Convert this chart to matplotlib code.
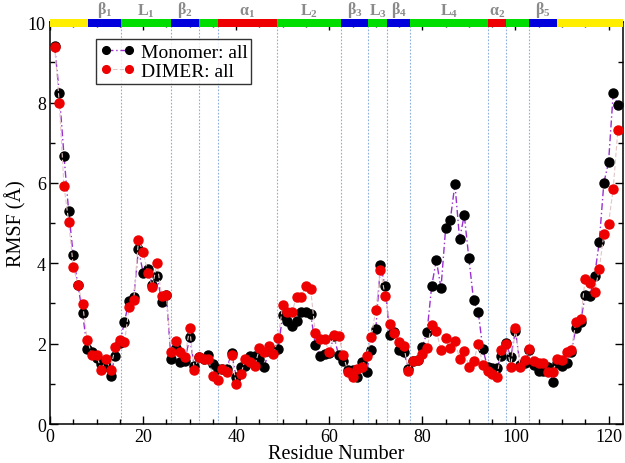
import matplotlib
matplotlib.use("Agg")
import matplotlib.pyplot as plt
from matplotlib.patches import Rectangle
from matplotlib.ticker import MultipleLocator

plt.rcParams["font.family"] = ["Liberation Serif", "DejaVu Serif"]
plt.rcParams["mathtext.fontset"] = "custom"
plt.rcParams["mathtext.rm"] = "Liberation Serif"
plt.rcParams["mathtext.bf"] = "Liberation Serif:bold"
plt.rcParams["mathtext.it"] = "Liberation Serif:italic"

residues = list(range(1, 123))

monomer = [
    9.40, 8.23, 6.68, 5.31, 4.20, 3.45, 2.76, 1.87, 1.78, 1.64,
    1.49, 1.45, 1.20, 1.70, 2.01, 2.55, 3.07, 3.16, 4.35, 3.77,
    3.87, 3.46, 3.69, 3.04, 3.20, 1.63, 1.88, 1.55, 1.58, 2.16,
    1.45, 1.66, 1.62, 1.72, 1.49, 1.37, 1.37, 1.37, 1.77, 1.16,
    1.41, 1.45, 1.70, 1.70, 1.63, 1.41, 1.82, 1.80, 1.87, 2.71,
    2.57, 2.45, 2.57, 2.78, 2.78, 2.74, 1.97, 1.70, 1.74, 1.77,
    2.18, 1.72, 1.58, 1.35, 1.35, 1.16, 1.55, 1.30, 1.85, 2.36,
    3.96, 3.43, 2.22, 2.30, 1.83, 1.80, 1.38, 1.57, 1.60, 1.92,
    2.28, 3.43, 4.08, 3.38, 4.87, 5.08, 5.97, 4.60, 5.20, 4.12,
    3.08, 2.79, 1.87, 1.41, 1.39, 1.39, 1.70, 2.01, 1.66, 2.32,
    1.46, 1.53, 1.83, 1.47, 1.31, 1.31, 1.43, 1.05, 1.53, 1.45,
    1.53, 1.80, 2.40, 2.55, 3.21, 3.19, 3.69, 4.52, 6.01, 6.51,
    8.23, 7.94,
]

dimer = [
    9.39, 7.99, 5.93, 5.04, 3.92, 3.46, 2.98, 2.10, 1.73, 1.73,
    1.34, 1.62, 1.35, 1.92, 2.09, 2.03, 2.90, 3.09, 4.58, 4.29,
    3.77, 3.42, 4.00, 3.18, 3.22, 1.78, 2.07, 1.80, 1.68, 2.38,
    1.35, 1.68, 1.62, 1.62, 1.20, 1.10, 1.38, 1.29, 1.72, 1.00,
    1.24, 1.63, 1.54, 1.45, 1.88, 1.78, 1.93, 1.74, 2.13, 2.95,
    2.79, 2.79, 3.17, 3.17, 3.44, 3.36, 2.26, 2.11, 2.11, 1.78,
    2.21, 2.20, 1.72, 1.30, 1.16, 1.37, 1.41, 1.70, 2.17, 2.84,
    3.83, 3.19, 2.48, 2.26, 2.03, 1.95, 1.32, 1.57, 1.60, 1.74,
    1.88, 2.46, 2.31, 1.85, 2.13, 1.88, 2.06, 1.63, 1.81, 1.43,
    1.56, 1.98, 1.48, 1.31, 1.24, 1.16, 1.85, 1.99, 1.43, 2.38,
    1.43, 1.60, 1.87, 1.58, 1.52, 1.53, 1.29, 1.29, 1.63, 1.60,
    1.78, 1.84, 2.55, 2.61, 3.62, 3.52, 3.28, 3.86, 4.73, 4.99,
    5.85, 7.31,
]

# secondary structure segments along the top
ss_edges = [0, 8.2, 15.2, 26, 32, 36, 48.7, 62.6, 68.4, 72.5, 77.4, 94, 98, 103, 108.9, 123]
ss_types = ["end", "b", "L", "b", "L", "a", "L", "b", "L", "b", "L", "a", "L", "b", "end"]
ss_labels = ["", r"$\mathbf{β_1}$", r"$\mathbf{L_1}$", r"$\mathbf{β_2}$", "", r"$\mathbf{α_1}$",
             r"$\mathbf{L_2}$", r"$\mathbf{β_3}$", r"$\mathbf{L_3}$", r"$\mathbf{β_4}$",
             r"$\mathbf{L_4}$", r"$\mathbf{α_2}$", "", r"$\mathbf{β_5}$", ""]
ss_colors = {"end": "#ffee00", "b": "#0000dd", "L": "#00dd00", "a": "#ee0000"}

fig = plt.figure(figsize=(6.25, 4.64), dpi=100)
ax = fig.add_axes([0.080, 0.084, 0.916, 0.866])

# dotted separators (not at the first boundary)
for xb in ss_edges[2:-2]:
    ax.axvline(xb, color="#8fb0dd", linestyle=(0, (1.5, 1.5)), linewidth=0.8, zorder=1)

ax.plot(residues, monomer, color="#9a30d0", linestyle=(0, (5, 2, 1, 2)), linewidth=1.0,
        marker="o", markersize=6.5, markerfacecolor="black", markeredgecolor="black",
        label="Monomer: all", zorder=3)
ax.plot(residues, dimer, color="#e2c6c6", linestyle=(0, (4, 2)), linewidth=0.8,
        marker="o", markersize=6.5, markerfacecolor="#ee0000", markeredgecolor="#ee0000",
        label="DIMER: all", zorder=4)

ax.set_xlim(0, 123)
ax.set_ylim(0, 10)
ax.xaxis.set_major_locator(MultipleLocator(20))
ax.xaxis.set_minor_locator(MultipleLocator(5))
ax.yaxis.set_major_locator(MultipleLocator(2))
ax.yaxis.set_minor_locator(MultipleLocator(1))
ax.tick_params(which="both", direction="in", top=True, right=True, labelsize=13, width=1.0)
ax.tick_params(which="major", length=5.5, pad=3)
ax.tick_params(which="minor", length=3.5)
for sp in ax.spines.values():
    sp.set_linewidth(1.1)

ax.set_xlabel("Residue Number", fontsize=14.5, labelpad=-1)
ax.set_ylabel("RMSF (Å)", fontsize=14.5, labelpad=1)

# colour bar on top spine
for i, t in enumerate(ss_types):
    x0, x1 = ss_edges[i], ss_edges[i + 1]
    ax.add_patch(Rectangle((x0, 9.89), x1 - x0, 0.2, facecolor=ss_colors[t],
                           edgecolor="none", clip_on=False, zorder=5))
    if ss_labels[i]:
        ax.text((x0 + x1) / 2, 10.09, ss_labels[i], ha="center", va="bottom",
                fontsize=11.5, color="#8a8a8a")

leg = ax.legend(loc="upper left", bbox_to_anchor=(0.08, 0.958), numpoints=2,
                fontsize=14, frameon=True, fancybox=False, handlelength=1.8,
                markerscale=0.85, borderpad=0.2, labelspacing=0.1,
                handletextpad=0.3, borderaxespad=0)
leg.get_frame().set_edgecolor("black")
leg.get_frame().set_linewidth(1.0)

fig.savefig("out.png", dpi=100)
